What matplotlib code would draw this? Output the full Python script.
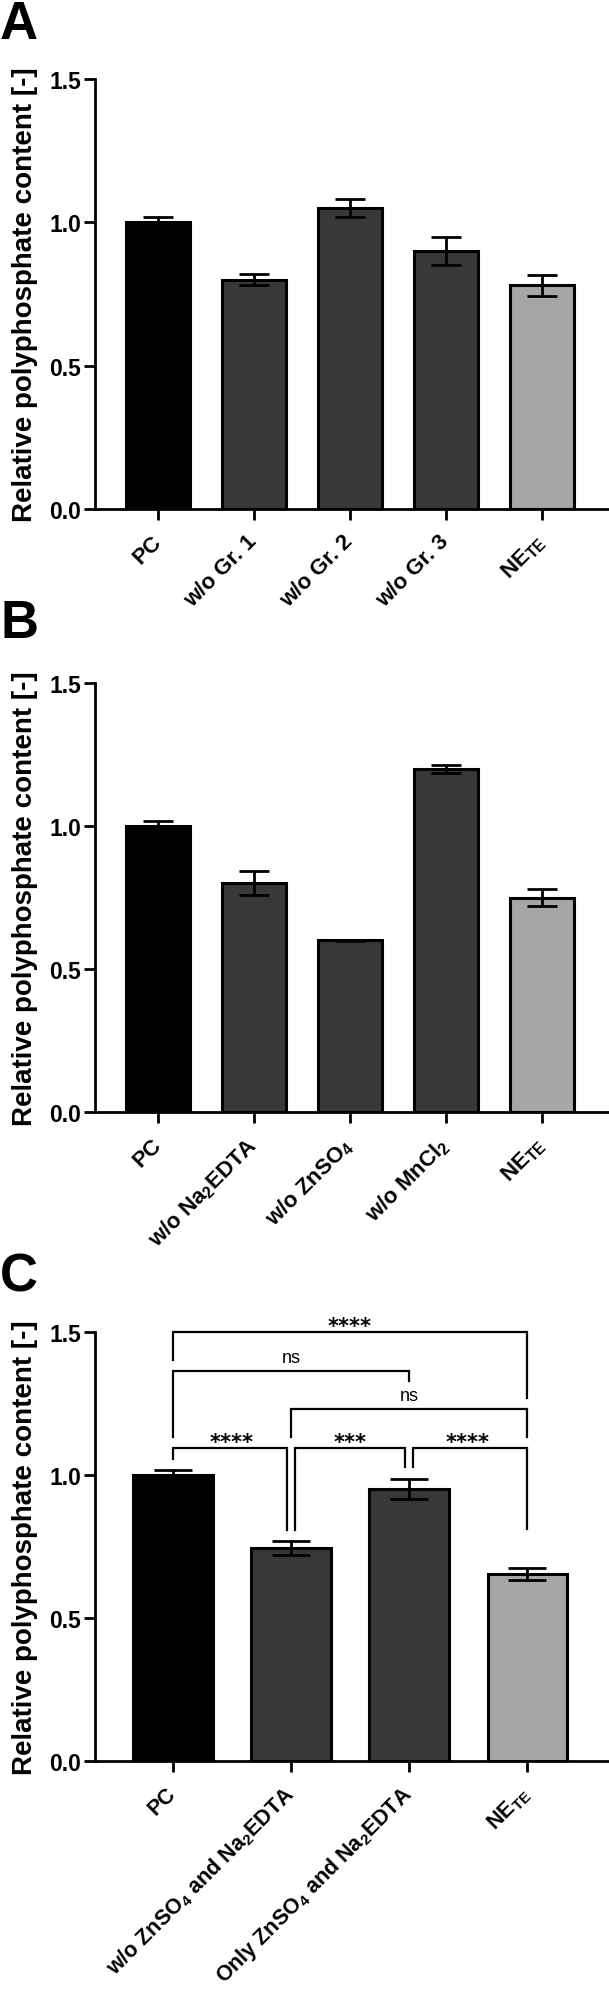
import matplotlib.pyplot as plt
import numpy as np

plt.rcParams['font.family'] = ['Liberation Sans', 'DejaVu Sans']
plt.rcParams['font.weight'] = 'bold'
plt.rcParams['mathtext.fontset'] = 'custom'
plt.rcParams['mathtext.rm'] = 'Liberation Sans'
plt.rcParams['mathtext.bf'] = 'Liberation Sans:bold'
plt.rcParams['mathtext.default'] = 'bf'

# panel A
labels_a = ['PC', 'w/o Gr. 1', 'w/o Gr. 2', 'w/o Gr. 3', r'NE$_{\mathrm{TE}}$']
values_a = [1.00, 0.80, 1.05, 0.90, 0.78]
errors_a = [0.018, 0.02, 0.033, 0.05, 0.038]

# panel B
labels_b = ['PC', r'w/o Na$_2$EDTA', r'w/o ZnSO$_{\mathrm{4}}$', r'w/o MnCl$_2$', r'NE$_{\mathrm{TE}}$']
values_b = [1.00, 0.80, 0.60, 1.20, 0.75]
errors_b = [0.018, 0.043, 0.003, 0.015, 0.03]

# panel C
labels_c = ['PC', r'w/o ZnSO$_{\mathrm{4}}$ and Na$_2$EDTA',
            r'Only ZnSO$_{\mathrm{4}}$ and Na$_2$EDTA', r'NE$_{\mathrm{TE}}$']
values_c = [1.00, 0.745, 0.95, 0.655]
errors_c = [0.018, 0.023, 0.035, 0.021]

# significance brackets in C
sig_pairs = [(0, 3), (0, 2), (1, 3), (0, 1), (1, 2), (2, 3)]
sig_text = ['****', 'ns', 'ns', '****', '***', '****']
sig_level = [1.501, 1.364, 1.231, 1.094, 1.094, 1.094]
sig_leg_left = [1.402, 1.133, 1.133, 1.056, 0.808, 1.028]
sig_leg_right = [1.269, 1.329, 1.133, 0.808, 1.028, 0.811]

yticks = [0.0, 0.5, 1.0, 1.5]

W, H = 609, 1990
fig = plt.figure(figsize=(W / 100, H / 100), dpi=100)


def panel(top_px, bottom_px, labels, values, errors, xlim, capsize, xfs):
    ax = fig.add_axes([95 / W, 1 - bottom_px / H, 513 / W, (bottom_px - top_px) / H])
    n = len(values)
    x = np.arange(n)
    colors = ['#000000'] + ['#383838'] * (n - 2) + ['#a6a6a6']
    ax.bar(x, values, width=0.67, color=colors, edgecolor='black', linewidth=2.2,
           yerr=errors, error_kw=dict(ecolor='black', elinewidth=2.0,
                                      capsize=capsize, capthick=2.0))
    ax.set_xlim(*xlim)
    ax.set_ylim(0, 1.5)
    ax.set_yticks(yticks)
    ax.set_yticklabels(['%.1f' % t for t in yticks], fontsize=16.5, fontweight='bold')
    ax.set_xticks(x)
    ax.set_xticklabels(labels, fontsize=xfs, fontweight='bold', rotation=45,
                       ha='right', va='center', rotation_mode='anchor')
    for s in ['top', 'right']:
        ax.spines[s].set_visible(False)
    for s in ['left', 'bottom']:
        ax.spines[s].set_linewidth(2.0)
    ax.tick_params(width=2.0, length=8, direction='out')
    ax.tick_params(axis='y', pad=2)
    ax.tick_params(axis='x', pad=13)
    ax.set_ylabel('Relative polyphosphate content [-]', fontsize=20,
                  fontweight='bold')
    ax.yaxis.set_label_coords(-0.112, 0.5)
    return ax


ax_a = panel(80, 510, labels_a, values_a, errors_a, (-0.656, 4.69), 11, 16)
ax_b = panel(684, 1113, labels_b, values_b, errors_b, (-0.656, 4.69), 11, 16)
ax_c = panel(1333, 1762, labels_c, values_c, errors_c, (-0.661, 3.686), 14, 15.5)

# brackets
dx = 0.035
for i, (a, b) in enumerate(sig_pairs):
    x1, x2 = a, b
    for j, (c, d) in enumerate(sig_pairs):
        if j != i and sig_level[j] == sig_level[i]:
            if c == b:
                x2 = b - dx
            if d == a:
                x1 = a + dx
    y = sig_level[i]
    ax_c.plot([x1, x1, x2, x2], [sig_leg_left[i], y, y, sig_leg_right[i]],
              color='black', linewidth=1.6, clip_on=False,
              solid_joinstyle='miter')
    if sig_text[i] == 'ns':
        ax_c.text((a + b) / 2, y + 0.031, sig_text[i], ha='center', va='baseline',
                  fontsize=13, fontweight='normal')
    else:
        ax_c.text((a + b) / 2, y + 0.0, sig_text[i], ha='center', va='baseline',
                  fontsize=15, fontweight='bold', family='DejaVu Sans')

fig.text(0.0, 1 - 39 / H, 'A', fontsize=38, fontweight='bold', va='baseline')
fig.text(0.0, 1 - 638 / H, 'B', fontsize=38, fontweight='bold', va='baseline')
fig.text(0.0, 1 - 1292 / H, 'C', fontsize=38, fontweight='bold', va='baseline')

fig.savefig('out.png', dpi=100)
